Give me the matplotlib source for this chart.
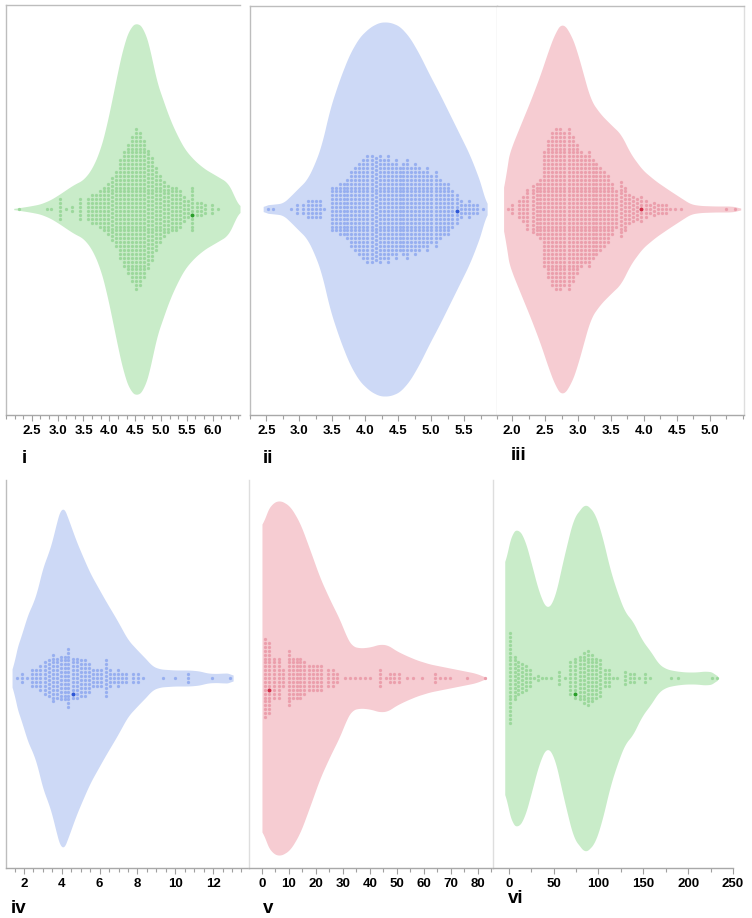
import numpy as np
import matplotlib.pyplot as plt
from matplotlib.ticker import AutoMinorLocator

plt.rcParams['font.family'] = ['Liberation Sans', 'DejaVu Sans']

# --- panel i ---
i_kde_x = [2.15, 2.27, 2.46, 2.66, 2.85, 3.04, 3.18, 3.33, 3.49, 3.66, 3.82, 3.93, 4.05, 4.17, 4.28, 4.40, 4.54,
           4.67, 4.79, 4.90, 5.04, 5.17, 5.33, 5.47, 5.66, 5.85, 6.05, 6.18, 6.28, 6.36, 6.42, 6.47, 6.53]
i_kde_w = [0.5, 1.5, 3, 5, 9, 15, 20, 25, 29, 40, 59, 80, 109, 140, 165, 182, 187,
           180, 160, 130, 109, 90, 72, 59, 48, 40, 34, 30, 27, 20, 13, 6, 2]
i_col_x = [2.25, 2.79, 2.87, 3.04, 3.16, 3.28, 3.43, 3.59, 3.66, 3.74, 3.82, 3.90, 3.97, 4.05, 4.13, 4.21, 4.28,
           4.36, 4.44, 4.52, 4.59, 4.67, 4.75, 4.83, 4.90, 4.98, 5.06, 5.14, 5.21, 5.29, 5.37, 5.45, 5.52, 5.60,
           5.70, 5.78, 5.85, 5.99, 6.10]
i_col_n = [1, 1, 1, 6, 1, 2, 6, 6, 8, 8, 10, 12, 14, 17, 20, 26, 30,
           34, 38, 42, 40, 36, 31, 27, 22, 18, 15, 13, 12, 12, 10, 7, 5, 12,
           4, 4, 3, 3, 1]
i_mark = (5.60, -1)
i_ticks = [2.5, 3.0, 3.5, 4.0, 4.5, 5.0, 5.5, 6.0]

# --- panel ii ---
ii_kde_x = [2.45, 2.47, 2.63, 2.75, 2.85, 3.00, 3.11, 3.23, 3.34, 3.46, 3.61, 3.76, 3.91, 4.07, 4.22, 4.37, 4.52,
            4.67, 4.82, 4.97, 5.13, 5.28, 5.43, 5.58, 5.70, 5.78, 5.82, 5.85]
ii_kde_w = [1.5, 4, 5, 6, 12, 22, 29, 45, 65, 100, 130, 155, 172, 182, 187, 187, 183,
            172, 155, 135, 115, 95, 75, 55, 35, 20, 8, 2]
ii_col_x = [2.52, 2.60, 2.88, 2.97, 3.05, 3.13, 3.19, 3.25, 3.31, 3.38, 3.49, 3.55, 3.61, 3.67, 3.73, 3.79,
            3.85, 3.91, 3.97, 4.03, 4.10, 4.16, 4.22, 4.28, 4.34, 4.40, 4.46, 4.52, 4.58, 4.64, 4.70, 4.76,
            4.82, 4.88, 4.94, 5.00, 5.07, 5.13, 5.19, 5.25, 5.31, 5.39, 5.46, 5.52, 5.58, 5.64, 5.70, 5.78]
ii_col_n = [1, 1, 1, 3, 3, 5, 5, 5, 5, 1, 12, 12, 14, 14, 16, 20,
            22, 24, 26, 28, 28, 27, 28, 26, 28, 24, 26, 22, 24, 26, 22, 24,
            22, 20, 22, 18, 20, 16, 14, 14, 10, 8, 5, 3, 5, 3, 3, 1]
ii_mark = (5.39, 0)
ii_ticks = [2.5, 3.0, 3.5, 4.0, 4.5, 5.0, 5.5]

# --- panel iii ---
iii_kde_x = [1.87, 1.88, 1.91, 1.97, 2.13, 2.28, 2.43, 2.55, 2.66, 2.76, 2.89, 2.98, 3.08, 3.19, 3.34, 3.49,
             3.65, 3.80, 3.98, 4.18, 4.38, 4.59, 4.71, 4.86, 5.09, 5.32, 5.42, 5.47]
iii_kde_w = [5, 30, 45, 59, 85, 109, 135, 159, 178, 187, 175, 159, 135, 109, 95, 85,
             75, 55, 39, 28, 19, 10, 5, 3.5, 3, 3, 2, 0.5]
iii_col_x = [1.94, 2.00, 2.10, 2.16, 2.23, 2.31, 2.37, 2.43, 2.49, 2.55, 2.61, 2.67, 2.73, 2.79, 2.86,
             2.92, 2.98, 3.04, 3.10, 3.16, 3.22, 3.28, 3.34, 3.40, 3.46, 3.52, 3.58, 3.65, 3.71, 3.77,
             3.83, 3.89, 3.95, 4.03, 4.09, 4.15, 4.21, 4.27, 4.33, 4.40, 4.48, 4.56, 5.24, 5.39]
iii_col_n = [1, 3, 5, 7, 11, 13, 14, 16, 30, 36, 40, 42, 42, 40, 42,
             38, 34, 30, 28, 30, 26, 24, 22, 20, 18, 14, 10, 15, 12, 8,
             7, 6, 7, 5, 3, 4, 3, 3, 3, 1, 1, 1, 1, 1]
iii_mark = (3.95, 0)
iii_ticks = [2.0, 2.5, 3.0, 3.5, 4.0, 4.5, 5.0]

# --- panel iv ---
iv_kde_x = [1.37, 1.42, 1.52, 1.79, 2.05, 2.32, 2.58, 2.85, 3.11, 3.38, 3.64, 4.01, 4.33, 4.70, 4.96, 5.49,
            6.29, 6.92, 7.50, 8.14, 8.51, 8.77, 9.20, 9.99, 10.78, 11.31, 11.68, 12.11, 12.63, 12.90, 13.06]
iv_kde_w = [0.5, 10, 25, 38, 55, 70, 78, 100, 118, 128, 150, 175, 160, 140, 128, 105,
            78, 58, 38, 25, 18, 12, 9, 8, 8, 7, 5, 4.5, 5, 5, 2]
iv_col_x = [1.63, 1.89, 2.16, 2.42, 2.63, 2.85, 3.11, 3.32, 3.53, 3.75, 3.96, 4.17, 4.33, 4.59, 4.80, 5.02,
            5.23, 5.44, 5.65, 5.86, 6.07, 6.34, 6.55, 6.76, 6.97, 7.19, 7.40, 7.77, 8.03, 8.30, 9.35, 9.99,
            10.68, 11.95, 12.90]
iv_col_n = [1, 3, 1, 5, 5, 7, 9, 10, 13, 11, 12, 12, 16, 11, 11, 10,
            10, 8, 5, 5, 5, 10, 5, 3, 5, 3, 3, 3, 3, 1, 1, 1,
            3, 1, 1]
iv_mark = (4.59, -4)
iv_ticks = [2, 4, 6, 8, 10, 12]

# --- panel v ---
v_kde_x = [0.0, 1.5, 3.7, 6.7, 10.4, 14.1, 17.8, 21.5, 25.2, 28.9, 31.5, 33.3, 36.3, 40.0, 43.7, 46.7,
           49.3, 53.0, 57.4, 62.2, 69.6, 75.2, 78.9, 81.9, 83.0]
v_kde_w = [150, 165, 175, 178, 172, 155, 128, 100, 78, 58, 40, 32, 30, 31, 34, 33,
           28, 23, 18, 14, 10, 7, 5, 2, 0.5]
v_col_x = [1.1, 2.6, 4.4, 6.3, 7.8, 10.0, 11.5, 13.0, 14.1, 15.6, 17.4, 18.9, 20.4, 21.9, 24.4, 26.3,
           27.8, 30.7, 32.6, 34.4, 36.3, 38.1, 40.0, 43.7, 45.9, 47.4, 48.9, 50.7, 53.7, 55.9, 59.3, 64.1,
           65.9, 67.8, 69.6, 75.9, 82.6]
v_col_n = [21, 19, 11, 11, 5, 15, 11, 11, 11, 9, 7, 7, 7, 7, 5, 5,
           3, 1, 1, 1, 1, 1, 1, 5, 1, 3, 3, 3, 1, 1, 1, 3,
           1, 1, 1, 1, 1]
v_mark = (2.6, -3)
v_ticks = [0, 10, 20, 30, 40, 50, 60, 70, 80]

# --- panel vi ---
vi_kde_x = [-4.4, -1.1, 3.3, 9.8, 17.5, 25.1, 33.8, 42.6, 51.3, 61.1, 72.1, 85.2, 96.1, 104.8, 112.4,
            121.2, 129.9, 137.6, 148.5, 159.4, 167.0, 175.8, 186.7, 197.6, 208.5, 219.4, 228.2, 232.5]
vi_kde_w = [110, 130, 145, 150, 140, 115, 85, 68, 80, 120, 160, 175, 165, 140, 110,
            85, 65, 58, 38, 25, 14, 9, 7, 6, 6, 7, 6, 1]
vi_col_x = [1.1, 6.6, 10.9, 15.3, 19.7, 24.0, 28.4, 32.8, 37.1, 41.5, 46.9, 55.7, 63.3, 68.8, 74.2, 79.7,
            84.1, 88.4, 92.8, 97.2, 101.5, 107.0, 111.4, 115.7, 121.2, 129.9, 135.4, 139.7, 145.2,
            151.7, 157.2, 181.2, 188.9, 227.1, 232.5]
vi_col_n = [24, 12, 9, 8, 7, 5, 1, 2, 1, 1, 1, 4, 1, 9, 11, 12,
            14, 15, 13, 11, 10, 5, 5, 1, 1, 4, 3, 3, 1,
            3, 1, 1, 1, 1, 1]
vi_mark = (74.2, -4)
vi_ticks = [0, 50, 100, 150, 200, 250]

# colours: violin fill, dots, highlighted dot
GREEN = ('#c9ecc9', '#9cd89c', '#2a9e2a')
BLUE = ('#cdd9f6', '#97aff0', '#2d56d6')
RED = ('#f6ccd2', '#eb9fac', '#d22f49')

PITCH = 3.9  # vertical step between stacked dots (pixels)
W, H = 752, 918

fig = plt.figure(figsize=(W / 100, H / 100), dpi=100)


def px_axes(x0, y0, x1, y1, cy):
    # axes placed by its pixel box; y data is in pixels around the centre line cy
    ax = fig.add_axes([x0 / W, 1 - y1 / H, (x1 - x0) / W, (y1 - y0) / H])
    ax.set_ylim(-(y1 - cy), cy - y0)
    return ax


def outline(kde_x, w, k=9):
    # round off the corners of the traced outline
    xs = np.linspace(kde_x[0], kde_x[-1], 500)
    ws = np.interp(xs, kde_x, w)
    pad = np.pad(ws, k, mode='edge')
    ws = np.convolve(pad, np.ones(2 * k + 1) / (2 * k + 1), mode='same')[k:-k]
    return xs, ws


def draw_panel(ax, kde_x, kde_w, col_x, col_n, mark, colors, peak):
    w = np.array(kde_w, dtype=float)
    w = w / w.max() * peak
    xs, ws = outline(kde_x, w)
    ax.fill_between(xs, -ws, ws, color=colors[0], lw=0, zorder=1)
    dx, dy = [], []
    for x, n in zip(col_x, col_n):
        for k in range(n):
            dx.append(x)
            dy.append((k - (n - 1) / 2) * PITCH)
    ax.scatter(dx, dy, s=5.5, color=colors[1], lw=0, zorder=2)
    # highlighted point
    n = col_n[col_x.index(mark[0])]
    k = (n - 1) // 2 + mark[1]
    ax.scatter([mark[0]], [(k - (n - 1) / 2) * PITCH], s=8, color=colors[2], lw=0, zorder=3)


def style(ax, xlim, ticks, fmt, minor, spines):
    ax.set_xlim(*xlim)
    ax.set_yticks([])
    ax.set_xticks(ticks)
    ax.set_xticklabels([fmt.format(t) for t in ticks], fontweight='bold')
    ax.xaxis.set_minor_locator(AutoMinorLocator(minor))
    ax.tick_params(axis='x', which='major', length=4, width=0.8, color='#a0a0a0',
                   labelsize=9.5, pad=3.5, labelcolor='black')
    ax.tick_params(axis='x', which='minor', length=3, width=0.8, color='#a0a0a0')
    for side in ['left', 'right', 'top', 'bottom']:
        if side in spines:
            ax.spines[side].set_color(spines[side])
            ax.spines[side].set_linewidth(1.0)
        else:
            ax.spines[side].set_visible(False)


BORDER = '#bdbdbd'
DIVIDE = '#dedede'
AXIS = '#a8a8a8'

# top row
ax = px_axes(6, 5, 240, 415, 209)
draw_panel(ax, i_kde_x, i_kde_w, i_col_x, i_col_n, i_mark, GREEN, 187)
style(ax, (2.0, 6.53), i_ticks, '{:.1f}', 3, {'left': BORDER, 'top': BORDER, 'bottom': AXIS})

ax = px_axes(250, 6, 497, 415, 209)
draw_panel(ax, ii_kde_x, ii_kde_w, ii_col_x, ii_col_n, ii_mark, BLUE, 187)
style(ax, (2.25, 6.0), ii_ticks, '{:.1f}', 2, {'left': BORDER, 'top': BORDER, 'right': DIVIDE, 'bottom': AXIS})

ax = px_axes(497, 6, 744, 415, 209)
draw_panel(ax, iii_kde_x, iii_kde_w, iii_col_x, iii_col_n, iii_mark, RED, 187)
style(ax, (1.77, 5.52), iii_ticks, '{:.1f}', 2, {'top': BORDER, 'right': DIVIDE, 'bottom': AXIS})

# bottom row
ax = px_axes(6, 480, 249, 868, 678)
draw_panel(ax, iv_kde_x, iv_kde_w, iv_col_x, iv_col_n, iv_mark, BLUE, 175)
style(ax, (1.05, 13.9), iv_ticks, '{:d}', 4, {'left': BORDER, 'bottom': AXIS})

ax = px_axes(249, 480, 493, 868, 678)
draw_panel(ax, v_kde_x, v_kde_w, v_col_x, v_col_n, v_mark, RED, 178)
style(ax, (-4.8, 85.6), v_ticks, '{:d}', 2, {'left': DIVIDE, 'bottom': AXIS})

ax = px_axes(493, 480, 733, 868, 678)
draw_panel(ax, vi_kde_x, vi_kde_w, vi_col_x, vi_col_n, vi_mark, GREEN, 175)
style(ax, (-17.5, 244.5), vi_ticks, '{:d}', 2, {'left': DIVIDE, 'bottom': AXIS})

# panel names
for name, x, y in [('i', 24, 463), ('ii', 268, 463), ('iii', 519, 460),
                   ('iv', 19, 913), ('v', 268, 913), ('vi', 516, 903)]:
    fig.text(x / W, 1 - y / H, name, fontsize=13.5, fontweight='bold', ha='center', va='baseline')

fig.savefig('out.png', dpi=100)
